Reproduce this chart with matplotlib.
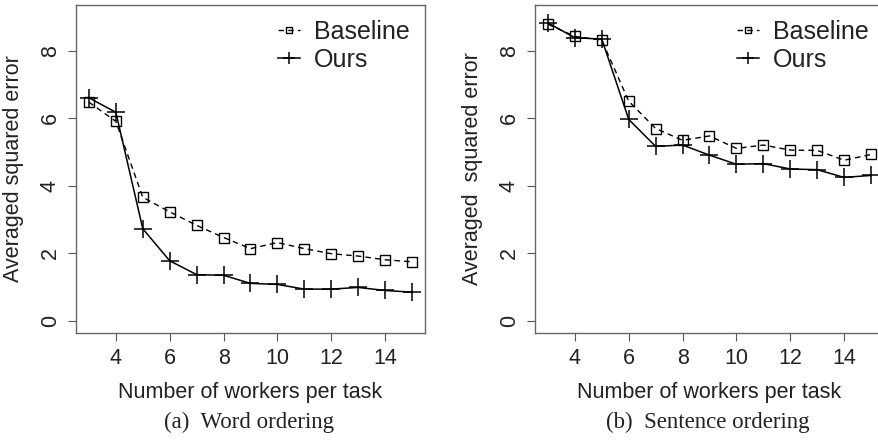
import matplotlib
matplotlib.use("Agg")
import matplotlib.pyplot as plt

workers = [3, 4, 5, 6, 7, 8, 9, 10, 11, 12, 13, 14, 15]

word_baseline = [6.48, 5.91, 3.66, 3.23, 2.83, 2.47, 2.14, 2.32, 2.14, 1.99, 1.92, 1.81, 1.75]
word_ours = [6.61, 6.18, 2.73, 1.78, 1.37, 1.35, 1.11, 1.08, 0.94, 0.94, 0.99, 0.90, 0.85]

sent_baseline = [8.79, 8.43, 8.32, 6.51, 5.70, 5.35, 5.48, 5.11, 5.21, 5.06, 5.05, 4.76, 4.93]
sent_ours = [8.83, 8.39, 8.35, 5.97, 5.17, 5.21, 4.91, 4.64, 4.66, 4.50, 4.48, 4.25, 4.31]

xticks = [4, 6, 8, 10, 12, 14]
yticks = [0, 2, 4, 6, 8]
legend_labels = ["Baseline", "Ours"]
captions = ["(a)  Word ordering", "(b)  Sentence ordering"]
ylabels = ["Averaged squared error", "Averaged  squared error"]
xlabel = "Number of workers per task"

plt.rcParams['font.family'] = ['Liberation Sans', 'DejaVu Sans']

W, H = 879, 443
fig = plt.figure(figsize=(W / 100, H / 100), dpi=100)

panels = [
    (76, word_baseline, word_ours, 0),
    (535, sent_baseline, sent_ours, 1),
]
for left_px, base, ours, i in panels:
    ax = fig.add_axes([left_px / W, (H - 333) / H, 349 / W, 328 / H])
    ax.plot(workers, base, linestyle=(0, (4, 3)), color='black', lw=1.0,
            marker='s', markersize=7, markerfacecolor='none', markeredgewidth=1.0,
            label=legend_labels[0])
    ax.plot(workers, ours, linestyle='-', color='black', lw=1.1,
            marker='+', markersize=13, markeredgewidth=1.1, label=legend_labels[1])
    ax.set_xlim(2.52, 15.48)
    ax.set_ylim(-0.36, 9.36)
    ax.set_xticks(xticks)
    ax.set_yticks(yticks)
    ax.tick_params(axis='both', direction='out', length=6, width=0.8,
                   colors='#555555', labelsize=15.5, labelcolor='#222222')
    ax.tick_params(axis='x', pad=5)
    ax.tick_params(axis='y', pad=5)
    for lab in ax.get_yticklabels():
        lab.set_rotation(90)
        lab.set_va('center')
    for sp in ax.spines.values():
        sp.set_color('#666666')
        sp.set_linewidth(1.0)
    ax.set_xlabel(xlabel, fontsize=15.5, color='#222222', labelpad=9)
    ax.set_ylabel(ylabels[i], fontsize=15.5, color='#222222', labelpad=11)
    leg = ax.legend(loc='upper right', frameon=False, fontsize=18,
                    handlelength=0.9, handletextpad=0.55, labelspacing=0.15,
                    borderaxespad=0.2, markerscale=0.7)
    for t in leg.get_texts():
        t.set_color('#222222')
    cx = (left_px + 349 / 2) / W
    fig.text(cx - 2 / W, 1 - 422 / H, captions[i], ha='center', va='center',
             fontsize=16.5, family=['Liberation Serif', 'DejaVu Serif'], color='#222222')

fig.savefig("out.png", dpi=100)
